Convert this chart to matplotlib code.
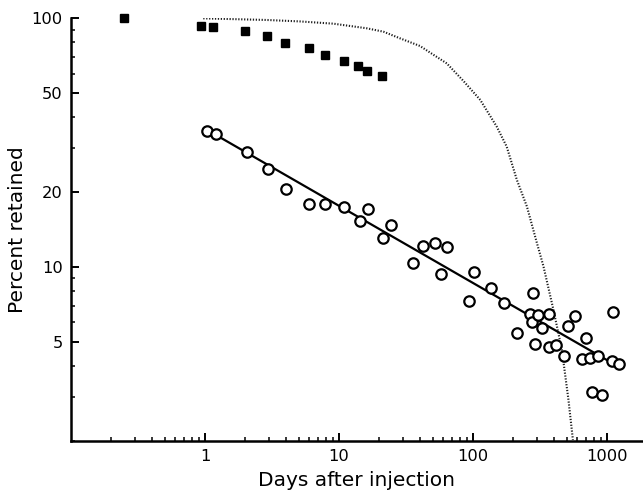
import matplotlib

matplotlib.use("Agg")
import matplotlib.pyplot as plt
from matplotlib.ticker import FixedLocator, FixedFormatter, LogLocator, NullFormatter

plt.rcParams["font.family"] = ["DejaVu Sans"]

# Whole-body retention, filled squares (early compartment)
sq_days = [0.25, 0.93, 1.15, 2.0, 2.9, 3.95, 5.97, 7.87, 10.8, 13.9, 16.1, 20.8]
sq_pct = [100, 93, 92.5, 89, 84.9, 79.8, 75.8, 71.3, 67.6, 64.5, 61.4, 58.7]

# Retention, open circles
ci_days = [1.03, 1.21, 2.05, 2.93, 4.0, 6.0, 7.87, 10.96, 16.4, 14.2, 24.3, 21.2,
           42.2, 52, 64, 35.8, 57.4, 101.6, 93.4, 135.5, 170, 282, 212, 266,
           277, 303, 365, 329, 290, 371, 414, 478, 514, 580, 697, 647, 747,
           861, 1113, 1083, 1216, 777, 912]
ci_pct = [35.3, 34.3, 29.1, 24.8, 20.6, 17.9, 17.9, 17.4, 17.1, 15.3, 14.7, 13.1,
          12.1, 12.5, 12.0, 10.4, 9.4, 9.55, 7.33, 8.27, 7.17, 7.87, 5.43, 6.5,
          6.03, 6.4, 6.5, 5.69, 4.91, 4.77, 4.88, 4.38, 5.82, 6.34, 5.19, 4.28, 4.33,
          4.38, 6.58, 4.18, 4.09, 3.16, 3.07]

# Power-law fit through the circles (straight on log-log axes)
fit_days = [1.0, 1100]
fit_pct = [36.0, 4.1]

# Single-exponential retention curve (dotted)
exp_days = [0.97, 2.9, 5.1, 9.06, 16.1, 21.4, 28.5, 40.2, 47.8, 63.6, 84.7, 113,
            150, 178, 212, 252, 299, 335, 397, 459, 514, 555]
exp_pct = [100, 98.5, 97.2, 95.2, 91.2, 88.4, 83.1, 77.4, 72.8, 65.9, 56.0, 47.0,
           36.7, 30.5, 22.4, 17.5, 12.5, 10.05, 6.74, 4.66, 2.93, 2.02]

y_ticks = [5, 10, 20, 50, 100]
x_ticks = [1, 10, 100, 1000]

fig = plt.figure(figsize=(6.43, 4.96), dpi=100)
ax = fig.add_axes([0.1104, 0.111, 0.8896, 0.852])
ax.set_xscale("log")
ax.set_yscale("log")
ax.set_xlim(0.1, 1850)
ax.set_ylim(2, 100)

ax.plot(exp_days, exp_pct, color="#1e1e1e", linewidth=1.5,
        linestyle=(0, (0.6, 0.8)), zorder=2)
ax.plot(fit_days, fit_pct, color="black", linewidth=1.6, zorder=3)
ax.plot(ci_days, ci_pct, "o", markersize=7.5, markerfacecolor="white",
        markeredgecolor="black", markeredgewidth=1.6, zorder=4, clip_on=False)
ax.plot(sq_days, sq_pct, "s", markersize=6.2, color="black", zorder=5,
        clip_on=False)

ax.yaxis.set_major_locator(FixedLocator(y_ticks))
ax.yaxis.set_major_formatter(FixedFormatter([str(v) for v in y_ticks]))
ax.yaxis.set_minor_locator(LogLocator(base=10, subs=range(2, 10)))
ax.yaxis.set_minor_formatter(NullFormatter())
ax.xaxis.set_major_locator(FixedLocator(x_ticks))
ax.xaxis.set_major_formatter(FixedFormatter([str(v) for v in x_ticks]))
ax.xaxis.set_minor_locator(LogLocator(base=10, subs=range(2, 10)))
ax.xaxis.set_minor_formatter(NullFormatter())

for s in ("top", "right"):
    ax.spines[s].set_visible(False)
for s in ("left", "bottom"):
    ax.spines[s].set_linewidth(1.8)
ax.tick_params(which="major", direction="in", length=6, width=1.4,
               labelsize=11.7, pad=6)
ax.tick_params(which="minor", direction="in", length=3, width=1.1)

ax.set_xlabel("Days after injection", fontsize=14.5, labelpad=5)
ax.set_ylabel("Percent retained", fontsize=14.5, labelpad=3)

fig.savefig("out.png", dpi=100, facecolor="white")
